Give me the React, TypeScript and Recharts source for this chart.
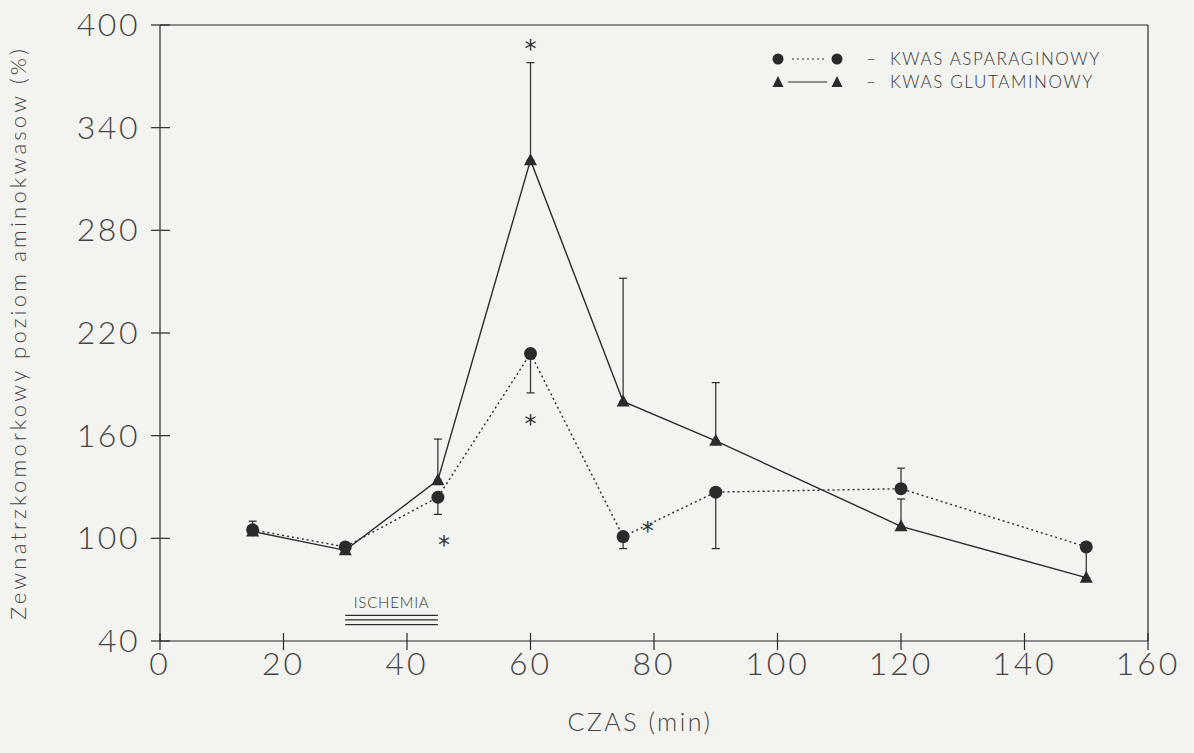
import React from "react";
import {
  ComposedChart,
  Line,
  Scatter,
  XAxis,
  YAxis,
  ErrorBar,
  ReferenceLine,
} from "recharts";

// czas pomiaru (min)
const times = [15, 30, 45, 60, 75, 90, 120, 150];
// kwas asparaginowy (%)
const asparaginowy = [105, 95, 124, 208, 101, 127, 129, 95];
// kwas glutaminowy (%)
const glutaminowy = [104, 93, 134, 321, 180, 157, 107, 77];
// odchylenia [w dol, w gore]
const aspErr = [[0, 5], [0, 0], [10, 0], [23, 0], [7, 0], [33, 0], [0, 12], [0, 0]];
const gluErr = [[0, 0], [0, 0], [0, 24], [0, 57], [0, 72], [0, 34], [0, 16], [0, 17]];

const xTicks = [0, 20, 40, 60, 80, 100, 120, 140, 160];
const yTicks = [40, 100, 160, 220, 280, 340, 400];

// gwiazdki istotnosci
const asterisks = [
  { t: 60, v: 389 },
  { t: 60, v: 170 },
  { t: 46, v: 99 },
  { t: 79, v: 107 },
];

const ischemiaFrom = 30;
const ischemiaTo = 45;
const ischemiaLevels = [55, 52.3, 49.6];

const chartData = times.map((t, i) => ({
  t,
  asp: asparaginowy[i],
  glu: glutaminowy[i],
  aspErr: aspErr[i],
  gluErr: gluErr[i],
}));

const INK = "#2b2b2b";
const FONT = "Lato, 'DejaVu Sans', sans-serif";

const Triangle = (props: any) => {
  const { cx, cy } = props;
  if (cx == null || cy == null) return null;
  return (
    <polygon
      points={`${cx},${cy - 7} ${cx - 6.5},${cy + 5} ${cx + 6.5},${cy + 5}`}
      fill={INK}
    />
  );
};

const Circle = (props: any) => {
  const { cx, cy } = props;
  if (cx == null || cy == null) return null;
  return <circle cx={cx} cy={cy} r={6.5} fill={INK} />;
};

const Asterisk = (props: any) => {
  const { cx, cy } = props;
  return (
    <text
      x={cx}
      y={cy}
      dy={13}
      textAnchor="middle"
      fontSize={24}
      fontFamily="'DejaVu Sans', sans-serif"
      fill="#333"
    >
      *
    </text>
  );
};

const XTick = (props: any) => {
  const { x, y, payload } = props;
  return (
    <g>
      <line x1={x} x2={x} y1={y - 8} y2={y + 9} stroke={INK} strokeWidth={1.2} />
      <text
        x={x}
        y={y + 34}
        textAnchor="middle"
        fontSize={32}
        fontFamily={FONT}
        fontWeight={300}
        letterSpacing={3}
        fill="#444"
      >
        {payload.value}
      </text>
    </g>
  );
};

const YTick = (props: any) => {
  const { x, y, payload } = props;
  return (
    <g>
      <line x1={x - 9} x2={x + 10} y1={y} y2={y} stroke={INK} strokeWidth={1.2} />
      <text
        x={x - 20}
        y={y + 11}
        textAnchor="end"
        fontSize={32}
        fontFamily={FONT}
        fontWeight={300}
        letterSpacing={2.5}
        fill="#444"
      >
        {payload.value}
      </text>
    </g>
  );
};

const LegendBox = () => (
  <div
    style={{
      position: "absolute",
      left: 770,
      top: 47,
      fontFamily: FONT,
      fontWeight: 300,
      fontSize: 17,
      color: "#333",
    }}
  >
    <div style={{ display: "flex", alignItems: "center", height: 23 }}>
      <svg width={96} height={16}>
        <circle cx={8} cy={8} r={5.5} fill={INK} />
        <line x1={22} x2={54} y1={8} y2={8} stroke={INK} strokeWidth={1.2} strokeDasharray="2 3" />
        <circle cx={67} cy={8} r={5.5} fill={INK} />
      </svg>
      <span style={{ letterSpacing: 1.6 }}>–&nbsp; KWAS ASPARAGINOWY</span>
    </div>
    <div style={{ display: "flex", alignItems: "center", height: 23 }}>
      <svg width={96} height={16}>
        <polygon points="8,2 2.5,13 13.5,13" fill={INK} />
        <line x1={18} x2={57} y1={8} y2={8} stroke={INK} strokeWidth={1.2} />
        <polygon points="67,2 61.5,13 72.5,13" fill={INK} />
      </svg>
      <span style={{ letterSpacing: 1.6 }}>–&nbsp; KWAS GLUTAMINOWY</span>
    </div>
  </div>
);

export default function App() {
  return (
    <div
      style={{
        position: "absolute",
        left: 0,
        top: 0,
        width: 1194,
        height: 753,
        background: "#f3f3f0",
      }}
    >
      <ComposedChart
        width={1194}
        height={753}
        data={chartData}
        margin={{ top: 25, right: 46, bottom: 12, left: 8 }}
      >
        <XAxis
          dataKey="t"
          type="number"
          domain={[0, 160]}
          ticks={xTicks}
          tick={<XTick />}
          tickLine={false}
          tickSize={0}
          tickMargin={0}
          height={100}
          axisLine={{ stroke: INK, strokeWidth: 1.2 }}
          label={{
            value: "CZAS (min)",
            position: "insideBottom",
            offset: 10,
            dx: -14,
            fontSize: 25,
            fontFamily: FONT,
            fontWeight: 300,
            fill: "#444",
            letterSpacing: 2.5,
          }}
        />
        <YAxis
          type="number"
          domain={[40, 400]}
          ticks={yTicks}
          tick={<YTick />}
          tickLine={false}
          tickSize={0}
          tickMargin={0}
          width={152}
          axisLine={{ stroke: INK, strokeWidth: 1.2 }}
          label={{
            value: "Zewnatrzkomorkowy poziom aminokwasow (%)",
            angle: -90,
            position: "insideLeft",
            offset: 10,
            dy: 0,
            fontSize: 22,
            fontFamily: FONT,
            fontWeight: 300,
            fill: "#444",
            letterSpacing: 3.2,
            style: { textAnchor: "middle" },
          }}
        />
        <ReferenceLine y={400} stroke={INK} strokeWidth={1.2} />
        <ReferenceLine x={160} stroke={INK} strokeWidth={1.2} />
        {ischemiaLevels.map((lvl, i) => (
          <ReferenceLine
            key={lvl}
            segment={[
              { x: ischemiaFrom, y: lvl },
              { x: ischemiaTo, y: lvl },
            ]}
            stroke={INK}
            strokeWidth={1.3}
            label={
              i === 0
                ? {
                    value: "ISCHEMIA",
                    position: "top",
                    offset: 7,
                    fontSize: 15,
                    fontFamily: FONT,
                    fontWeight: 300,
                    fill: "#333",
                    letterSpacing: 0.8,
                  }
                : undefined
            }
          />
        ))}
        <Line
          dataKey="asp"
          stroke={INK}
          strokeWidth={1.4}
          strokeDasharray="2 3"
          dot={<Circle />}
          activeDot={false}
          isAnimationActive={false}
        >
          <ErrorBar dataKey="aspErr" direction="y" width={4} stroke={INK} strokeWidth={1.2} />
        </Line>
        <Line
          dataKey="glu"
          stroke={INK}
          strokeWidth={1.4}
          dot={<Triangle />}
          activeDot={false}
          isAnimationActive={false}
        >
          <ErrorBar dataKey="gluErr" direction="y" width={4} stroke={INK} strokeWidth={1.2} />
        </Line>
        <Scatter
          data={asterisks}
          dataKey="v"
          shape={(p: any) => <Asterisk {...p} />}
          isAnimationActive={false}
        />
      </ComposedChart>
      <LegendBox />
    </div>
  );
}
